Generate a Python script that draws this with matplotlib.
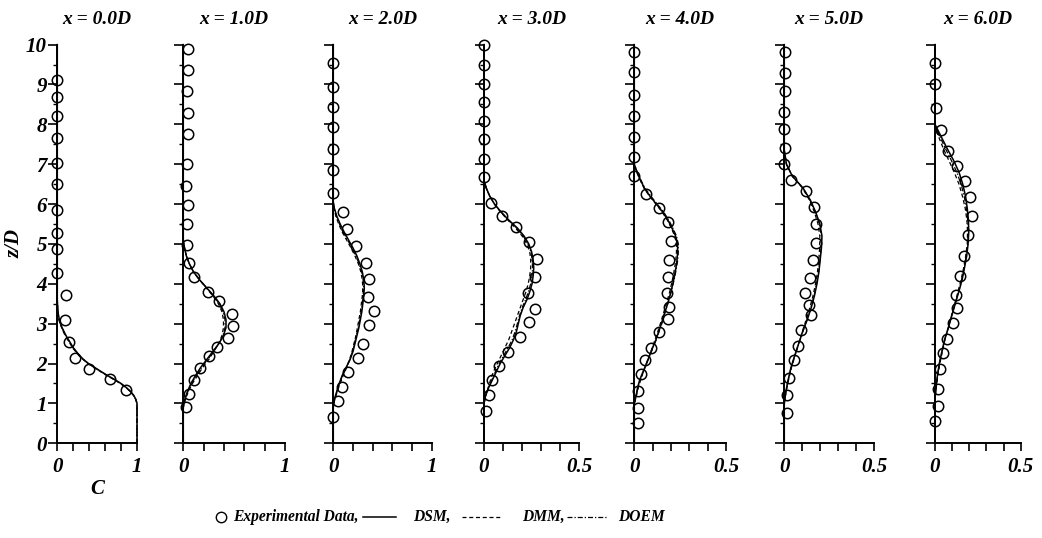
import matplotlib
matplotlib.use("Agg")
import matplotlib.pyplot as plt
from matplotlib.lines import Line2D
from matplotlib.ticker import FixedLocator, FixedFormatter, MultipleLocator

plt.rcParams['font.family'] = ['Liberation Serif', 'DejaVu Serif']
plt.rcParams['font.weight'] = 'bold'
plt.rcParams['font.style'] = 'italic'
plt.rcParams['axes.titleweight'] = 'bold'
plt.rcParams['axes.labelweight'] = 'bold'

# --- data: experimental points (C, z/D) per station ---
stations = ["x = 0.0D", "x = 1.0D", "x = 2.0D", "x = 3.0D", "x = 4.0D", "x = 5.0D", "x = 6.0D"]
c_max = [1.0, 1.0, 1.0, 0.5, 0.5, 0.5, 0.5]

exp0_z = [9.10, 8.68, 8.21, 7.65, 7.03, 6.50, 5.86, 5.27, 4.87, 4.26, 3.72, 3.10, 2.54, 2.14, 1.87, 1.61, 1.33]
exp0_c = [0.0, 0.0, 0.0, 0.0, 0.0, 0.0, 0.0, 0.0, 0.0, 0.0, 0.106, 0.093, 0.15, 0.22, 0.40, 0.665, 0.864]

exp1_z = [9.90, 9.36, 8.84, 8.29, 7.75, 7.00, 6.46, 5.97, 5.49, 4.98, 4.53, 4.16, 3.80, 3.56, 3.24, 2.94, 2.64, 2.41, 2.20, 1.90, 1.60, 1.23, 0.90]
exp1_c = [0.05, 0.043, 0.04, 0.05, 0.043, 0.033, 0.026, 0.046, 0.033, 0.033, 0.06, 0.11, 0.24, 0.35, 0.48, 0.49, 0.44, 0.33, 0.25, 0.16, 0.11, 0.06, 0.026]

exp2_z = [9.53, 8.94, 8.44, 7.94, 7.38, 6.85, 6.27, 5.79, 5.37, 4.94, 4.53, 4.13, 3.67, 3.33, 2.96, 2.49, 2.15, 1.79, 1.40, 1.06, 0.67]
exp2_c = [0.0, 0.0, 0.0, 0.0, 0.0, 0.0, 0.0, 0.10, 0.14, 0.23, 0.33, 0.36, 0.35, 0.41, 0.36, 0.30, 0.25, 0.15, 0.085, 0.044, 0.0]

exp3_z = [10.0, 9.49, 9.02, 8.55, 8.09, 7.62, 7.13, 6.68, 6.03, 5.69, 5.43, 5.06, 4.62, 4.16, 3.78, 3.37, 3.03, 2.66, 2.30, 1.94, 1.59, 1.21, 0.82]
exp3_c = [0.0, 0.0, 0.0, 0.0, 0.0, 0.0, 0.0, 0.0, 0.035, 0.092, 0.17, 0.235, 0.279, 0.27, 0.23, 0.267, 0.235, 0.19, 0.127, 0.078, 0.044, 0.026, 0.012]

exp4_z = [9.81, 9.32, 8.74, 8.22, 7.69, 7.17, 6.70, 6.25, 5.91, 5.54, 5.07, 4.59, 4.16, 3.78, 3.43, 3.13, 2.79, 2.40, 2.10, 1.73, 1.31, 0.88, 0.50]
exp4_c = [0.0, 0.0, 0.0, 0.0, 0.0, 0.0, 0.0, 0.063, 0.135, 0.183, 0.198, 0.19, 0.183, 0.18, 0.19, 0.183, 0.135, 0.09, 0.059, 0.036, 0.018, 0.018, 0.018]

exp5_z = [9.81, 9.28, 8.84, 8.31, 7.88, 7.41, 7.00, 6.61, 6.33, 5.92, 5.50, 5.03, 4.60, 4.15, 3.78, 3.48, 3.22, 2.83, 2.43, 2.09, 1.63, 1.20, 0.76]
exp5_c = [0.006, 0.006, 0.006, 0.0, 0.0, 0.006, 0.0, 0.037, 0.12, 0.164, 0.174, 0.174, 0.16, 0.146, 0.118, 0.138, 0.149, 0.095, 0.075, 0.052, 0.028, 0.015, 0.015]

exp6_z = [9.53, 9.01, 8.41, 7.86, 7.32, 6.96, 6.58, 6.19, 5.71, 5.22, 4.70, 4.19, 3.72, 3.39, 3.01, 2.62, 2.26, 1.87, 1.37, 0.94, 0.56]
exp6_c = [0.0, 0.0, 0.008, 0.037, 0.077, 0.127, 0.176, 0.207, 0.216, 0.19, 0.172, 0.143, 0.124, 0.127, 0.104, 0.071, 0.044, 0.027, 0.017, 0.017, 0.0]

# --- data: model profiles (DSM, DMM, DOEM) ---
m0_z = [0.0, 1.0, 1.1, 1.2, 1.3, 1.4, 1.5, 1.6, 1.7, 1.8, 1.9, 2.0, 2.1, 2.2, 2.3, 2.4, 2.5, 2.6, 2.7, 2.8, 2.9, 3.0, 3.1, 3.3, 3.6, 10.0]
m0_dsm = [1.0, 1.0, 0.985, 0.96, 0.92, 0.865, 0.80, 0.72, 0.63, 0.55, 0.47, 0.39, 0.33, 0.28, 0.24, 0.20, 0.17, 0.14, 0.11, 0.085, 0.06, 0.04, 0.025, 0.008, 0.0, 0.0]
m0_dmm = [1.0, 1.0, 0.985, 0.955, 0.915, 0.86, 0.79, 0.71, 0.62, 0.54, 0.46, 0.385, 0.325, 0.27, 0.23, 0.19, 0.16, 0.13, 0.10, 0.075, 0.055, 0.035, 0.02, 0.006, 0.0, 0.0]
m0_doem = [1.0, 1.0, 0.985, 0.958, 0.918, 0.862, 0.795, 0.715, 0.625, 0.545, 0.465, 0.39, 0.33, 0.275, 0.235, 0.195, 0.165, 0.135, 0.105, 0.08, 0.058, 0.038, 0.022, 0.007, 0.0, 0.0]

m1_z = [0.0, 0.9, 1.1, 1.3, 1.5, 1.7, 1.9, 2.1, 2.3, 2.5, 2.7, 2.9, 3.1, 3.3, 3.5, 3.7, 3.9, 4.1, 4.3, 4.5, 4.7, 4.9, 5.1, 10.0]
m1_dsm = [0.0, 0.0, 0.015, 0.04, 0.075, 0.12, 0.17, 0.23, 0.29, 0.35, 0.395, 0.42, 0.42, 0.40, 0.36, 0.30, 0.23, 0.16, 0.10, 0.06, 0.03, 0.012, 0.0, 0.0]
m1_dmm = [0.0, 0.0, 0.02, 0.05, 0.09, 0.14, 0.19, 0.25, 0.30, 0.345, 0.38, 0.395, 0.395, 0.38, 0.345, 0.29, 0.225, 0.16, 0.10, 0.06, 0.03, 0.012, 0.0, 0.0]
m1_doem = [0.0, 0.0, 0.017, 0.045, 0.08, 0.13, 0.18, 0.24, 0.295, 0.35, 0.39, 0.41, 0.41, 0.39, 0.355, 0.295, 0.228, 0.16, 0.10, 0.06, 0.03, 0.012, 0.0, 0.0]

m2_z = [0.0, 0.9, 1.1, 1.3, 1.5, 1.7, 1.9, 2.1, 2.3, 2.5, 2.7, 2.9, 3.1, 3.3, 3.5, 3.7, 3.9, 4.1, 4.3, 4.5, 4.7, 4.9, 5.1, 5.3, 5.5, 5.7, 5.9, 6.05, 10.0]
m2_dsm = [0.0, 0.0, 0.01, 0.035, 0.06, 0.09, 0.13, 0.17, 0.20, 0.22, 0.24, 0.26, 0.275, 0.29, 0.30, 0.31, 0.315, 0.31, 0.295, 0.27, 0.24, 0.20, 0.155, 0.11, 0.07, 0.035, 0.01, 0.0, 0.0]
m2_dmm = [0.0, 0.0, 0.015, 0.04, 0.07, 0.10, 0.135, 0.165, 0.19, 0.21, 0.23, 0.245, 0.26, 0.275, 0.285, 0.295, 0.30, 0.295, 0.28, 0.255, 0.22, 0.18, 0.135, 0.09, 0.055, 0.025, 0.008, 0.0, 0.0]
m2_doem = [0.0, 0.0, 0.012, 0.037, 0.065, 0.095, 0.132, 0.168, 0.195, 0.215, 0.235, 0.253, 0.268, 0.283, 0.293, 0.303, 0.308, 0.303, 0.288, 0.263, 0.23, 0.19, 0.145, 0.10, 0.063, 0.03, 0.009, 0.0, 0.0]

m3_z = [0.0, 1.0, 1.2, 1.4, 1.6, 1.8, 2.0, 2.2, 2.4, 2.6, 2.8, 3.0, 3.2, 3.4, 3.6, 3.8, 4.0, 4.2, 4.4, 4.6, 4.8, 5.0, 5.2, 5.4, 5.6, 5.8, 6.0, 6.2, 6.4, 6.6, 10.0]
m3_dsm = [0.0, 0.0, 0.008, 0.025, 0.045, 0.065, 0.085, 0.11, 0.135, 0.155, 0.17, 0.18, 0.19, 0.205, 0.225, 0.24, 0.252, 0.258, 0.261, 0.258, 0.25, 0.235, 0.21, 0.175, 0.13, 0.09, 0.055, 0.03, 0.012, 0.0, 0.0]
m3_dmm = [0.0, 0.0, 0.01, 0.022, 0.035, 0.05, 0.07, 0.09, 0.11, 0.13, 0.145, 0.16, 0.175, 0.19, 0.205, 0.22, 0.232, 0.24, 0.245, 0.245, 0.24, 0.225, 0.20, 0.165, 0.125, 0.087, 0.055, 0.03, 0.012, 0.0, 0.0]
m3_doem = [0.0, 0.0, 0.009, 0.024, 0.042, 0.06, 0.08, 0.103, 0.127, 0.148, 0.163, 0.175, 0.186, 0.20, 0.218, 0.233, 0.245, 0.252, 0.255, 0.253, 0.246, 0.231, 0.206, 0.171, 0.128, 0.089, 0.055, 0.03, 0.012, 0.0, 0.0]

m4_z = [0.0, 1.0, 1.2, 1.4, 1.6, 1.8, 2.0, 2.2, 2.4, 2.6, 2.8, 3.0, 3.2, 3.4, 3.6, 3.8, 4.0, 4.2, 4.4, 4.6, 4.8, 5.0, 5.2, 5.4, 5.6, 5.8, 6.0, 6.2, 6.4, 6.6, 6.8, 7.0, 10.0]
m4_dsm = [0.0, 0.0, 0.01, 0.018, 0.03, 0.048, 0.066, 0.083, 0.10, 0.118, 0.133, 0.148, 0.16, 0.175, 0.188, 0.20, 0.21, 0.219, 0.227, 0.233, 0.236, 0.236, 0.225, 0.205, 0.183, 0.155, 0.12, 0.085, 0.055, 0.034, 0.015, 0.0, 0.0]
m4_dmm = [0.0, 0.0, 0.012, 0.022, 0.035, 0.05, 0.066, 0.082, 0.098, 0.113, 0.128, 0.142, 0.155, 0.168, 0.181, 0.193, 0.203, 0.212, 0.22, 0.226, 0.23, 0.23, 0.22, 0.202, 0.18, 0.152, 0.118, 0.083, 0.053, 0.032, 0.013, 0.0, 0.0]
m4_doem = [0.0, 0.0, 0.011, 0.02, 0.033, 0.05, 0.067, 0.085, 0.102, 0.12, 0.135, 0.15, 0.162, 0.176, 0.189, 0.201, 0.212, 0.222, 0.23, 0.237, 0.24, 0.24, 0.23, 0.21, 0.188, 0.16, 0.125, 0.09, 0.058, 0.036, 0.016, 0.0, 0.0]

m5_z = [0.0, 1.0, 1.3, 1.6, 1.9, 2.2, 2.5, 2.8, 3.1, 3.4, 3.7, 4.0, 4.3, 4.6, 4.9, 5.2, 5.5, 5.8, 6.1, 6.4, 6.7, 7.0, 7.35, 10.0]
m5_dsm = [0.0, 0.0, 0.009, 0.022, 0.037, 0.058, 0.08, 0.102, 0.128, 0.15, 0.168, 0.182, 0.193, 0.20, 0.207, 0.21, 0.198, 0.175, 0.145, 0.105, 0.045, 0.012, 0.0, 0.0]
m5_dmm = [0.0, 0.0, 0.01, 0.024, 0.04, 0.06, 0.08, 0.10, 0.122, 0.142, 0.16, 0.174, 0.185, 0.192, 0.197, 0.198, 0.188, 0.168, 0.14, 0.102, 0.045, 0.012, 0.0, 0.0]
m5_doem = [0.0, 0.0, 0.009, 0.023, 0.038, 0.059, 0.081, 0.103, 0.127, 0.148, 0.166, 0.18, 0.191, 0.199, 0.205, 0.207, 0.196, 0.173, 0.143, 0.104, 0.045, 0.012, 0.0, 0.0]

m6_z = [0.0, 1.1, 1.4, 1.7, 2.0, 2.3, 2.6, 2.9, 3.2, 3.5, 3.8, 4.1, 4.4, 4.7, 5.0, 5.3, 5.6, 5.9, 6.2, 6.5, 6.8, 7.1, 7.4, 7.7, 8.0, 10.0]
m6_dsm = [0.0, 0.0, 0.006, 0.014, 0.025, 0.04, 0.056, 0.078, 0.098, 0.118, 0.139, 0.158, 0.172, 0.185, 0.193, 0.197, 0.195, 0.188, 0.178, 0.162, 0.14, 0.108, 0.07, 0.035, 0.0, 0.0]
m6_dmm = [0.0, 0.0, 0.007, 0.016, 0.028, 0.043, 0.058, 0.078, 0.096, 0.115, 0.134, 0.152, 0.167, 0.179, 0.188, 0.19, 0.186, 0.176, 0.16, 0.14, 0.112, 0.08, 0.048, 0.02, 0.0, 0.0]
m6_doem = [0.0, 0.0, 0.006, 0.015, 0.026, 0.041, 0.057, 0.078, 0.097, 0.117, 0.137, 0.155, 0.17, 0.182, 0.191, 0.194, 0.191, 0.183, 0.17, 0.152, 0.127, 0.095, 0.06, 0.028, 0.0, 0.0]

exp_z = [exp0_z, exp1_z, exp2_z, exp3_z, exp4_z, exp5_z, exp6_z]
exp_c = [exp0_c, exp1_c, exp2_c, exp3_c, exp4_c, exp5_c, exp6_c]
mod_z = [m0_z, m1_z, m2_z, m3_z, m4_z, m5_z, m6_z]
mod_dsm = [m0_dsm, m1_dsm, m2_dsm, m3_dsm, m4_dsm, m5_dsm, m6_dsm]
mod_dmm = [m0_dmm, m1_dmm, m2_dmm, m3_dmm, m4_dmm, m5_dmm, m6_dmm]
mod_doem = [m0_doem, m1_doem, m2_doem, m3_doem, m4_doem, m5_doem, m6_doem]

# --- layout (pixels of the 1042x538 image) ---
W, H = 1042, 538
panel_px = [(57.3, 137.0), (183.3, 285.0), (333.3, 431.7), (484.0, 579.3),
            (634.3, 726.0), (784.3, 874.0), (935.0, 1020.7)]
y_bot, y_top = 443.3, 44.6

dash_style = (0, (3.2, 2.2))
dashdot_style = (0, (4.0, 1.6, 1.0, 1.6))
fs_tick = 15
fs_title = 14
fs_leg = 11.2

fig = plt.figure(figsize=(W / 100, H / 100), dpi=100)

for i, (xl, xr) in enumerate(panel_px):
    ax = fig.add_axes([xl / W, 1 - y_bot / H, (xr - xl) / W, (y_bot - y_top) / H])
    ax.plot(mod_dsm[i], mod_z[i], color='black', lw=1.1, ls='-', clip_on=False)
    ax.plot(mod_dmm[i], mod_z[i], color='black', lw=0.9, ls=dash_style, clip_on=False)
    ax.plot(mod_doem[i], mod_z[i], color='black', lw=0.9, ls=dashdot_style, clip_on=False)
    ax.plot(exp_c[i], exp_z[i], 'o', ms=7.5, mfc='none', mec='black', mew=1.1,
            clip_on=False, zorder=5)

    cm = c_max[i]
    ax.set_xlim(0, cm)
    ax.set_ylim(0, 10)
    for s in ['top', 'right']:
        ax.spines[s].set_visible(False)
    for s in ['left', 'bottom']:
        ax.spines[s].set_linewidth(1.4)

    xt = [cm * k / 5 for k in range(6)]
    ax.xaxis.set_major_locator(FixedLocator(xt))
    lab = ['0', '', '', '', '', ('1' if cm == 1.0 else '0.5')]
    ax.xaxis.set_major_formatter(FixedFormatter(lab))
    ax.yaxis.set_major_locator(MultipleLocator(1))
    ax.yaxis.set_minor_locator(MultipleLocator(0.5))
    ax.tick_params(axis='x', direction='out', length=6, width=1.2, pad=4, labelsize=fs_tick)
    ax.tick_params(axis='y', which='major', direction='out', length=6.5, width=1.2, pad=1,
                   labelsize=fs_tick)
    ax.tick_params(axis='y', which='minor', direction='out', length=3, width=1.0)
    if i > 0:
        ax.tick_params(axis='y', labelleft=False)
    else:
        ax.set_ylabel('z/D', fontsize=fs_tick, labelpad=1)
        ax.set_xlabel('C', fontsize=fs_tick, labelpad=1)
    ax.set_title(stations[i], fontsize=fs_title, pad=15)

# --- legend row drawn by hand ---
ly = 1 - 517 / H
fig.add_artist(Line2D([221 / W], [ly], marker='o', ms=7.5, mfc='none', mec='black', mew=1.0,
                      ls='none', transform=fig.transFigure))
fig.text(233 / W, ly, 'Experimental Data,', fontsize=fs_leg, va='center', ha='left')
fig.add_artist(Line2D([363 / W, 396 / W], [ly, ly], color='black', lw=1.1,
                      transform=fig.transFigure))
fig.text(413 / W, ly, 'DSM,', fontsize=fs_leg, va='center', ha='left')
fig.add_artist(Line2D([462 / W, 502 / W], [ly, ly], color='black', lw=0.9, ls=dash_style,
                      transform=fig.transFigure))
fig.text(522 / W, ly, 'DMM,', fontsize=fs_leg, va='center', ha='left')
fig.add_artist(Line2D([567 / W, 608 / W], [ly, ly], color='black', lw=0.9, ls=dashdot_style,
                      transform=fig.transFigure))
fig.text(618 / W, ly, 'DOEM', fontsize=fs_leg, va='center', ha='left')

plt.savefig('out.png', dpi=100)
